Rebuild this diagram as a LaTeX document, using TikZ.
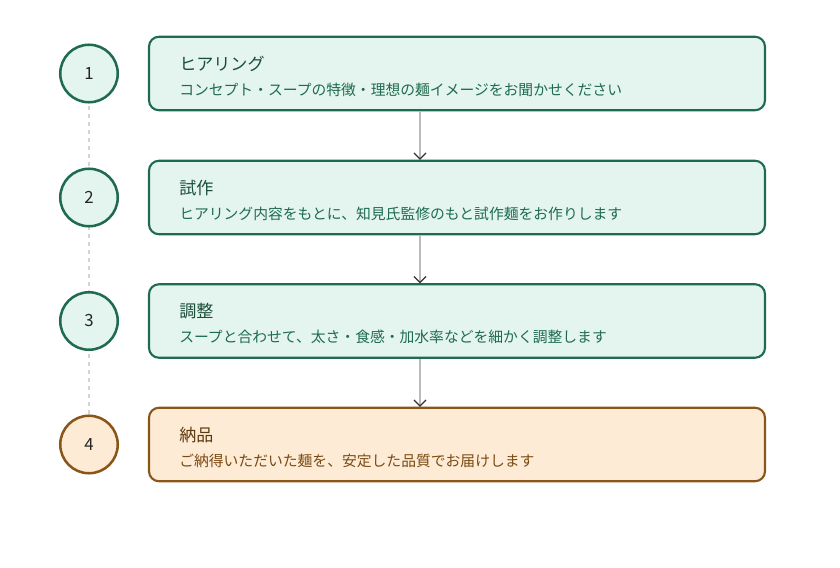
\documentclass[tikz,border=0pt]{standalone}
\usepackage{fontspec}
\setmainfont{Noto Sans CJK JP}
\usetikzlibrary{arrows.meta}
\definecolor{gstroke}{HTML}{1E6B4E}
\definecolor{gfill}{HTML}{E3F5EE}
\definecolor{gtitle}{HTML}{1B4D3B}
\definecolor{gsub}{HTML}{1F6B50}
\definecolor{bstroke}{HTML}{8A5518}
\definecolor{bfill}{HTML}{FDEBD5}
\definecolor{btitle}{HTML}{5E3A0E}
\definecolor{bsub}{HTML}{7A4A12}
\definecolor{dashc}{HTML}{D4D4D4}
\definecolor{arrc}{HTML}{BBBBBB}
\begin{document}
\begin{tikzpicture}[x=0.75pt,y=-0.75pt,
  stepcircle/.style={circle,draw=gstroke,fill=gfill,line width=1.9pt,minimum size=57.5*0.75pt,inner sep=0pt,text=black!85,font=\fontsize{12.6}{14}\selectfont},
  stepbox/.style={rectangle,rounded corners=7.5pt,draw=gstroke,fill=gfill,line width=1.6pt,minimum width=616*0.75pt,minimum height=73.5*0.75pt,inner sep=0pt},
  browncircle/.style={stepcircle,draw=bstroke,fill=bfill},
  brownbox/.style={stepbox,draw=bstroke,fill=bfill},
  ttl/.style={anchor=west,inner sep=0pt,font=\fontsize{12.8}{14}\selectfont},
  sub/.style={anchor=west,inner sep=0pt,font=\fontsize{11.1}{13}\selectfont},
  flow/.style={draw=arrc,line width=1pt,-{Straight Barb[length=4.5pt,width=9pt,color=black!80,line width=0.9pt]}},
  tl/.style={draw=dashc,line width=0.8pt,dash pattern=on 3pt off 3pt}
]
\useasboundingbox (0,0) rectangle (840,568);
\fill[white] (0,0) rectangle (840,568);
% timeline
\draw[tl] (89,73.5) -- (89,444.5);
% boxes
\node[stepbox] (b1) at (457,73.5) {};
\node[stepbox] (b2) at (457,197.5) {};
\node[stepbox] (b3) at (457,321) {};
\node[brownbox] (b4) at (457,444.5) {};
% circles
\node[stepcircle] (c1) at (89,73.5) {1};
\node[stepcircle] (c2) at (89,197.5) {2};
\node[stepcircle] (c3) at (89,321) {3};
\node[browncircle] (c4) at (89,444.5) {4};
% texts
\node[ttl,text=gtitle] (t1) at (179,64) {ヒアリング};
\node[sub,text=gsub] (s1) at (179,89.5) {コンセプト・スープの特徴・理想の麺イメージをお聞かせください};
\node[ttl,text=gtitle] (t2) at (179,188) {試作};
\node[sub,text=gsub] (s2) at (179,213.5) {ヒアリング内容をもとに、知見氏監修のもと試作麺をお作りします};
\node[ttl,text=gtitle] (t3) at (179,311.5) {調整};
\node[sub,text=gsub] (s3) at (179,337) {スープと合わせて、太さ・食感・加水率などを細かく調整します};
\node[ttl,text=btitle] (t4) at (179,435) {納品};
\node[sub,text=bsub] (s4) at (179,460.5) {ご納得いただいた麺を、安定した品質でお届けします};
% arrows
\coordinate (a1s) at (420,111.3);
\coordinate (a1e) at (420,159.8);
\coordinate (a2s) at (420,235.3);
\coordinate (a2e) at (420,283.3);
\coordinate (a3s) at (420,358.8);
\coordinate (a3e) at (420,406.8);
\draw[flow] (a1s) -- (a1e);
\draw[flow] (a2s) -- (a2e);
\draw[flow] (a3s) -- (a3e);
\end{tikzpicture}
\end{document}
